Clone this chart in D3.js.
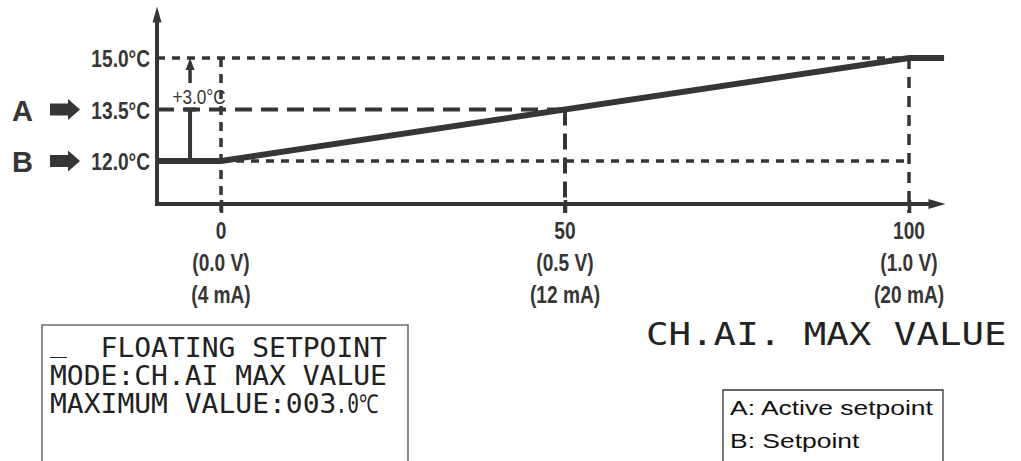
<!DOCTYPE html>
<html><head><meta charset="utf-8">
<script src="https://cdn.jsdelivr.net/npm/d3@7"></script>
<style>
html,body{margin:0;padding:0;background:#fff;}
svg{display:block;}
</style></head>
<body>
<svg id="chart" width="1021" height="461"></svg>
<script>
// ---------- data ----------
const xTicks = [0, 50, 100];
const voltLabels = ["(0.0 V)", "(0.5 V)", "(1.0 V)"];
const currentLabels = ["(4 mA)", "(12 mA)", "(20 mA)"];
const tempTicks = [12.0, 13.5, 15.0];
const tempLabels = ["12.0°C", "13.5°C", "15.0°C"];
const markerLetters = ["B", "A"];
const markerValues = [12.0, 13.5];
const curveX = [-9.3, 0, 100, 105.1];
const curveY = [12.0, 12.0, 15.0, 15.0];
const axisXRange = [-9.3, 105.3];
const axisYRange = [10.75, 16.5];
const offsetLabel = "+3.0°C";
const offsetPos = -4.5;
const offsetArrowFrom = 14.27;
const titleText = "CH.AI. MAX VALUE";
const lcdLine1 = "FLOATING SETPOINT";
const lcdLine2 = "MODE:CH.AI MAX VALUE";
const lcdLine3a = "MAXIMUM VALUE:003";
const lcdLine3b = ".0℃";
const legendLines = ["A: Active setpoint", "B: Setpoint"];

// ---------- setup ----------
const svg = d3.select("#chart");
const ink = "#363636";
const x = d3.scaleLinear().domain([0, 100]).range([221, 909]);
const y = d3.scaleLinear().domain([12, 15]).range([161, 58]);
const xAxisY = y(axisYRange[0]);
const yAxisX = x(axisXRange[0]);

function label(g, px, py, text, o) {
  return g.append("text")
    .attr("transform", `translate(${px},${py}) scale(${o.sx || 1},1)`)
    .attr("text-anchor", o.anchor || "start")
    .attr("font-family", o.family || "'Liberation Sans', Arial, sans-serif")
    .attr("font-size", o.size)
    .attr("font-weight", o.weight || "normal")
    .attr("fill", o.fill || ink)
    .text(text);
}

// ---------- guides ----------
const guides = svg.append("g").attr("stroke", ink).attr("fill", "none");
const shortDash = "8,7", longDash = "17,9";
function seg(x1, y1, x2, y2, dash, w) {
  guides.append("line").attr("x1", x1).attr("y1", y1).attr("x2", x2).attr("y2", y2)
    .attr("stroke-dasharray", dash).attr("stroke-width", w);
}
seg(yAxisX, y(15), x(100), y(15), shortDash, 3.5);
seg(yAxisX, y(13.5), x(50), y(13.5), longDash, 4);
seg(x(0), y(12), x(100), y(12), shortDash, 3.5);
seg(x(0), y(15), x(0), xAxisY + 10, "9,7", 3.5);
seg(x(50), y(13.5), x(50), xAxisY + 9, "16,8", 4);
seg(x(100), y(15), x(100), xAxisY + 9, "11,8", 3.5);

// ---------- curve ----------
const pts = curveX.map((v, i) => [x(v), y(curveY[i])]);
svg.append("path").attr("d", d3.line()(pts))
  .attr("fill", "none").attr("stroke", ink).attr("stroke-width", 6)
  .attr("stroke-linejoin", "miter");

// ---------- axes ----------
const axes = svg.append("g");
const yTop = y(axisYRange[1]);
const xEnd = x(axisXRange[1]);
axes.append("line").attr("x1", yAxisX).attr("y1", xAxisY + 2).attr("x2", yAxisX).attr("y2", yTop + 12)
  .attr("stroke", ink).attr("stroke-width", 4);
axes.append("path").attr("d", `M${yAxisX},${yTop} L${yAxisX - 4.5},${yTop + 16} L${yAxisX + 4.5},${yTop + 16} Z`).attr("fill", ink);
axes.append("line").attr("x1", yAxisX - 2).attr("y1", xAxisY).attr("x2", xEnd - 12).attr("y2", xAxisY)
  .attr("stroke", ink).attr("stroke-width", 4);
axes.append("path").attr("d", `M${xEnd},${xAxisY} L${xEnd - 17},${xAxisY - 5} L${xEnd - 17},${xAxisY + 5} Z`).attr("fill", ink);

const xAxis = d3.axisBottom(x).tickValues(xTicks).tickSize(9).tickFormat("");
const xg = svg.append("g").attr("transform", `translate(0,${xAxisY})`).call(xAxis);
xg.select(".domain").remove();
xg.selectAll(".tick line").attr("y1", -4).attr("stroke", ink).attr("stroke-width", 3.5);

// x tick labels (three rows)
const cond = {anchor: "middle", size: 24.5, weight: "bold", sx: 0.78};
const xl = svg.append("g");
xTicks.forEach((t, i) => {
  label(xl, x(t), xAxisY + 35, String(t), cond);
  label(xl, x(t), xAxisY + 67, voltLabels[i], cond);
  label(xl, x(t), xAxisY + 99, currentLabels[i], cond);
});

// y tick labels
const yl = svg.append("g");
tempTicks.forEach((t, i) => {
  label(yl, yAxisX - 7, y(t) + 9, tempLabels[i], Object.assign({}, cond, {anchor: "end"}));
});

// A / B markers with block arrows
const mk = svg.append("g");
markerValues.forEach((v, i) => {
  const cy = y(v);
  label(mk, 12, cy + 11, markerLetters[i], {size: 29, weight: "bold"});
  mk.append("path")
    .attr("d", `M50,${cy - 6} L68,${cy - 6} L68,${cy - 10.5} L80,${cy} L68,${cy + 10.5} L68,${cy + 6} L50,${cy + 6} Z`)
    .attr("fill", ink);
});

// offset annotation
const an = svg.append("g");
an.append("line").attr("x1", x(offsetPos)).attr("x2", x(offsetPos))
  .attr("y1", y(12)).attr("y2", y(13.5)).attr("stroke", ink).attr("stroke-width", 4);
an.append("line").attr("x1", x(offsetPos) - 6).attr("x2", x(offsetPos) + 6)
  .attr("y1", y(13.5)).attr("y2", y(13.5)).attr("stroke", ink).attr("stroke-width", 4);
an.append("line").attr("x1", x(offsetPos)).attr("x2", x(offsetPos))
  .attr("y1", y(offsetArrowFrom)).attr("y2", y(15) + 10).attr("stroke", ink).attr("stroke-width", 3.5);
an.append("path").attr("d", `M${x(offsetPos)},${y(15)} L${x(offsetPos) - 4.5},${y(15) + 12} L${x(offsetPos) + 4.5},${y(15) + 12} Z`).attr("fill", ink);
label(an, x(offsetPos) + 9, 104, offsetLabel, {anchor: "middle", size: 21, sx: 0.82});

// ---------- big LCD title ----------
const mono = "'DejaVu Sans Mono', monospace";
label(svg, 646, 345, titleText, {family: mono, size: 32, sx: 1.17, fill: "#222"});

// ---------- LCD box ----------
const box = svg.append("g");
box.append("path").attr("d", "M42,470 L42,325 L408,325 L408,470")
  .attr("fill", "none").attr("stroke", "#6e6e6e").attr("stroke-width", 1.6);
const pitch = 16.86;
const lcd = {family: mono, size: 26, fill: "#222", sx: 1.077};
label(box, 50, 352, "_", lcd);
label(box, 50 + 3 * pitch, 357, lcdLine1, lcd);
label(box, 50, 385, lcdLine2, lcd);
label(box, 50, 413, lcdLine3a, lcd);
label(box, 50 + 17 * pitch - 1, 413, lcdLine3b, Object.assign({}, lcd, {sx: 0.75}));

// ---------- legend box ----------
const lg = svg.append("g");
lg.append("path").attr("d", "M723,470 L723,390 L943,390 L943,470")
  .attr("fill", "none").attr("stroke", "#333").attr("stroke-width", 1.3);
legendLines.forEach((t, i) => {
  label(lg, 730, 415 + i * 33, t, {size: 21, sx: 1.26, fill: "#111"});
});
</script>
</body></html>
